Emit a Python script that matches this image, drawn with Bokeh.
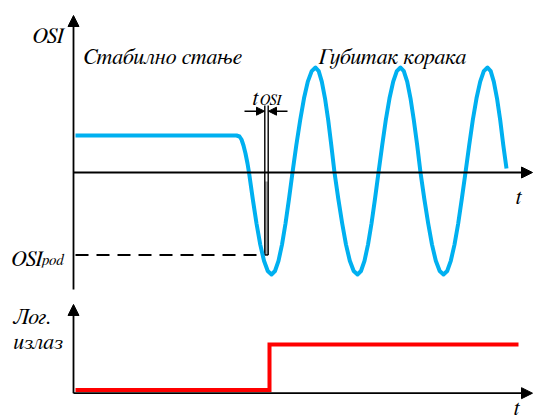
from bokeh.plotting import figure
from bokeh.models import Range1d, Arrow, NormalHead
from bokeh.core.properties import value
from bokeh.embed import file_html
from bokeh.resources import INLINE

# ---- data (t in time units, OSI in signal units, LOG = logical output) ----
osi_t = [2, 163, 166, 168, 170, 172, 174, 175.5,
         179.25, 183, 186.75, 190.5, 194.25, 198,
         201.5, 205, 208.5, 212, 215.5, 219,
         222.8, 226.7, 230.5, 234.3, 238.2, 242,
         245.2, 248.3, 251.5, 254.7, 257.8, 261,
         264.8, 268.7, 272.5, 276.3, 280.2, 284,
         287.5, 291, 294.5, 298, 301.5, 305,
         308.7, 312.3, 316, 319.7, 323.3, 327,
         330.3, 333.7, 337, 340.3, 343.7, 347,
         350.8, 354.7, 358.5, 362.3, 366.2, 370,
         373.7, 377.3, 381, 384.7, 388.3, 392,
         395.7, 399.3, 403, 406.7, 410.3, 414,
         417.2, 420.3, 423.5, 426.7, 429.8, 433]
osi_v = [37, 37, 36, 33, 27, 19, 9, 0,
         -26.4, -51, -72.1, -88.3, -98.5, -102,
         -98.5, -88.3, -72.1, -51, -26.4, 0,
         27.2, 52.5, 74.2, 90.9, 101.4, 105,
         101.4, 90.9, 74.2, 52.5, 27.2, 0,
         -26.4, -51, -72.1, -88.3, -98.5, -102,
         -98.5, -88.3, -72.1, -51, -26.4, 0,
         27.2, 52.5, 74.2, 90.9, 101.4, 105,
         101.4, 90.9, 74.2, 52.5, 27.2, 0,
         -26.4, -51, -72.1, -88.3, -98.5, -102,
         -98.5, -88.3, -72.1, -51, -26.4, 0,
         27.2, 52.5, 74.2, 90.9, 101.4, 105,
         101.4, 90.9, 74.2, 52.5, 27.2, 4]

log_t = [2, 196, 196, 445]
log_v = [0, 0, 1, 1]

osi_pod = -82.5          # threshold level
t_osi = [191.3, 194.7]   # t_OSI window edges
t_osi_top = 67

labels_main = ["Стабилно стање", "Губитак корака"]
label_osi = "OSI"
label_pod = "pod"
label_log = ["Лог.", "излаз"]
label_t = "t"

FONT = value("FreeSerif, 'Liberation Serif', serif")
BLUE = "#00B0F0"
RED = "#FF0000"

W, H = 533, 415
p = figure(width=W, height=H, output_backend="svg", toolbar_location=None,
           x_range=Range1d(-73, 460), y_range=Range1d(-243, 172),
           min_border=0, outline_line_color=None)
p.axis.visible = False
p.grid.visible = False
# logical output panel range
p.extra_y_ranges = {"log": Range1d(-0.5604, 8.5604)}

# ---- top panel axes ----
head = dict(size=11, fill_color="black", line_color="black", line_width=1)
p.add_layout(Arrow(x_start=0, y_start=-117, x_end=0, y_end=157,
                   line_width=1.8, end=NormalHead(**head)))
p.add_layout(Arrow(x_start=0, y_start=0, x_end=459, y_end=0,
                   line_width=1.8, end=NormalHead(**head)))

# ---- bottom panel axes ----
p.add_layout(Arrow(x_start=0, y_start=-0.07, x_end=0, y_end=1.88,
                   line_width=1.8, end=NormalHead(**head), y_range_name="log"))
p.add_layout(Arrow(x_start=0, y_start=-0.07, x_end=459, y_end=-0.07,
                   line_width=1.8, end=NormalHead(**head), y_range_name="log"))

# ---- threshold dashed line ----
p.line([2, t_osi[0]], [osi_pod, osi_pod], line_color="black", line_width=1.8,
       line_dash="13 8")

# ---- t_OSI window ----
p.quad(left=[t_osi[0]], right=[t_osi[1]], top=[-9], bottom=[osi_pod],
       fill_color="#a8a8a8", line_color=None)
p.multi_line([[t_osi[0], t_osi[0]], [t_osi[1], t_osi[1]], [t_osi[0], t_osi[1]]],
             [[t_osi_top, osi_pod], [t_osi_top, osi_pod], [osi_pod, osi_pod]],
             line_color="black", line_width=1.4)
ah = dict(size=8, fill_color="black", line_color="black", line_width=1)
p.add_layout(Arrow(x_start=171, y_start=61.3, x_end=t_osi[0] - 0.3, y_end=61.3,
                   line_width=1.4, end=NormalHead(**ah)))
p.add_layout(Arrow(x_start=214, y_start=61.3, x_end=t_osi[1] + 0.3, y_end=61.3,
                   line_width=1.4, end=NormalHead(**ah)))

# ---- signals ----
p.line(osi_t, osi_v, line_color=BLUE, line_width=4, line_join="round")
p.line(log_t, log_v, line_color=RED, line_width=4, y_range_name="log",
       line_join="miter")

# ---- texts ----
txt = dict(text_font=FONT, text_font_style="italic", text_color="black",
           text_baseline="alphabetic")
p.text(x=[10, 245], y=[116, 116], text=labels_main, text_font_size="22px",
       text_align="left", **txt)
p.text(x=[-10], y=[137], text=[label_osi], text_font_size="22px",
       text_align="right", **txt)
# threshold label OSI_pod
p.text(x=[-62], y=[-86], text=[label_osi], text_font_size="22px",
       text_align="left", **txt)
p.text(x=[-31.5], y=[-88], text=[label_pod], text_font_size="15px",
       text_align="left", **txt)
# t_OSI label
p.text(x=[179], y=[75], text=[label_t], text_font_size="22px",
       text_align="left", **txt)
p.text(x=[186.5], y=[72], text=[label_osi], text_font_size="15px",
       text_align="left", **txt)
# time labels
p.text(x=[445], y=[-24], text=[label_t], text_font_size="22px",
       text_align="center", **txt)
p.text(x=[443], y=[-0.385], text=[label_t], text_font_size="22px",
       text_align="center", y_range_name="log", **txt)
# logical output label
p.text(x=[-60, -60], y=[1.6, 1.05], text=label_log, text_font_size="22px",
       text_align="left", y_range_name="log", **txt)

open("out.html", "w").write(file_html(p, INLINE))
